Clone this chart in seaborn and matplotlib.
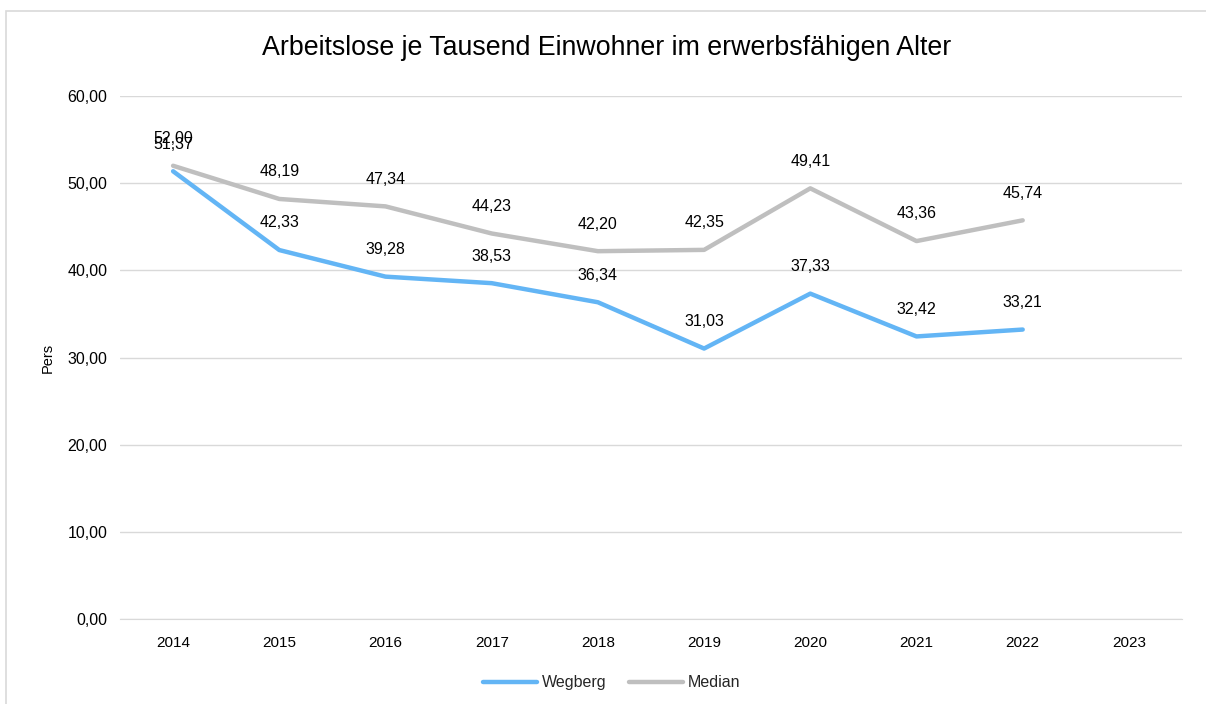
import pandas as pd
import matplotlib.pyplot as plt
import seaborn as sns
from matplotlib.patches import Rectangle

years = ["2014", "2015", "2016", "2017", "2018", "2019", "2020", "2021", "2022", "2023"]
wegberg = [51.37, 42.33, 39.28, 38.53, 36.34, 31.03, 37.33, 32.42, 33.21]
median = [52.00, 48.19, 47.34, 44.23, 42.20, 42.35, 49.41, 43.36, 45.74]

colors = {"Wegberg": "#63B5F5", "Median": "#BFBFBF"}

rows = []
for name, vals in [("Wegberg", wegberg), ("Median", median)]:
    for i, v in enumerate(vals):
        rows.append({"Pos": i, "Jahr": years[i], "Wert": v, "Reihe": name})
df = pd.DataFrame(rows)

sns.set_style("white")
plt.rcParams["font.family"] = ["Liberation Sans", "DejaVu Sans"]

fig = plt.figure(figsize=(12.06, 7.04), dpi=100)
ax = fig.add_axes([0.0995, 0.1207, 0.8806, 0.7429])

sns.lineplot(data=df, x="Pos", y="Wert", hue="Reihe", palette=colors,
             linewidth=3.2, ax=ax, legend=True)

# data labels above each point
for _, r in df.iterrows():
    ax.annotate(f"{r['Wert']:.2f}".replace(".", ","), (r["Pos"], r["Wert"]),
                xytext=(0, 19.5), textcoords="offset points",
                ha="center", va="center", fontsize=11.5, color="black")

ax.set_xlim(-0.5, len(years) - 0.5)
ax.set_ylim(0, 60)
ax.set_xticks(range(len(years)))
ax.set_xticklabels(years, fontsize=11, color="black")
ax.set_yticks(range(0, 61, 10))
ax.set_yticklabels([f"{v},00" for v in range(0, 61, 10)], fontsize=11.5, color="black")
ax.tick_params(axis="y", length=0, pad=9)
ax.tick_params(axis="x", length=0, pad=12)
ax.grid(axis="y", color="#D9D9D9", linewidth=1)
ax.grid(axis="x", visible=False)
for s in ax.spines.values():
    s.set_visible(False)
ax.spines["bottom"].set_visible(True)
ax.spines["bottom"].set_color("#D9D9D9")
ax.set_xlabel("")
ax.set_ylabel("Pers", fontsize=10.5, color="black", labelpad=9)

leg = ax.legend(loc="center", bbox_to_anchor=(0.463, -0.122), ncol=2, frameon=False,
                fontsize=11.5, handlelength=3.4, columnspacing=1.4, handletextpad=0.3)
for line in leg.get_lines():
    line.set_linewidth(3.2)

fig.text(0.503, 0.932, "Arbeitslose je Tausend Einwohner im erwerbsfähigen Alter",
         ha="center", va="center", fontsize=19.3, color="black")

fig.patches.append(Rectangle((6 / 1206, -0.01), 1.1, 1 - 11 / 704 + 0.01,
                             transform=fig.transFigure, fill=False,
                             edgecolor="#D9D9D9", linewidth=1.2))

fig.savefig("out.png", dpi=100)
